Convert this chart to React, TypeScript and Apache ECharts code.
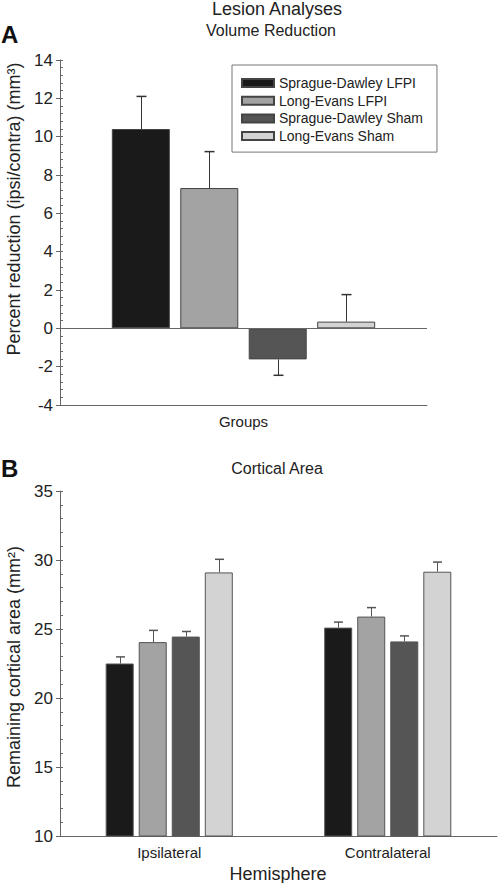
import React, { useEffect, useRef } from "react";
import * as echarts from "echarts";

const seriesNames = ["Sprague-Dawley LFPI", "Long-Evans LFPI", "Sprague-Dawley Sham", "Long-Evans Sham"];
const seriesColors = ["#1a1a1a", "#a3a3a3", "#555555", "#d3d3d3"];

// Panel A: Volume reduction
const volumeCategories = ["Groups"];
const volumeMeans = [10.4, 7.32, -1.62, 0.35];
const volumeErrEnds = [12.1, 9.22, -2.45, 1.76];

// Panel B: Cortical area
const areaCategories = ["Ipsilateral", "Contralateral"];
const areaMeans = [
  [22.5, 25.1],
  [24.05, 25.9],
  [24.45, 24.1],
  [29.1, 29.15],
];
const areaErrEnds = [
  [22.98, 25.5],
  [24.9, 26.55],
  [24.82, 24.5],
  [30.05, 29.85],
];

const volumeTicks = { min: -4, max: 14, interval: 2, minor: 0.4 };
const areaTicks = { min: 10, max: 35, interval: 5, minor: 1 };

const FONT = "'Liberation Sans', Arial, sans-serif";
const TXT = "#222";
const AXIS = "#666";

export default function App() {
  const ref = useRef<HTMLDivElement>(null);
  useEffect(() => {
    if (!ref.current) return;
    const chart = echarts.init(ref.current, undefined, { renderer: "svg" });

    const pitchA = 58 * 1.18;
    const pitchB = 28 * 1.18;

    const errSeries = (
      xAxisIndex: number,
      yAxisIndex: number,
      data: number[][],
      pitch: number,
      cap: number,
      color: string
    ) => ({
      type: "custom",
      xAxisIndex,
      yAxisIndex,
      silent: true,
      z: 1,
      encode: { x: 0, y: [1, 2] },
      data,
      renderItem: (params: any, api: any) => {
        const cat = api.value(0);
        const s = api.value(3);
        const off = (s - 1.5) * pitch;
        const p0 = api.coord([cat, api.value(1)]);
        const p1 = api.coord([cat, api.value(2)]);
        const x = Math.round(p0[0] + off) + 0.5;
        return {
          type: "group",
          children: [
            { type: "line", shape: { x1: x, y1: p0[1], x2: x, y2: p1[1] }, style: { stroke: color, lineWidth: 1 } },
            { type: "line", shape: { x1: x - cap / 2, y1: p1[1], x2: x + cap / 2, y2: p1[1] }, style: { stroke: color, lineWidth: 1.5 } },
          ],
        };
      },
    });

    const volErrData = volumeMeans.map((m, i) => [0, m, volumeErrEnds[i], i]);
    const areaErrData: number[][] = [];
    areaMeans.forEach((arr, i) => arr.forEach((m, c) => areaErrData.push([c, m, areaErrEnds[i][c], i])));

    const yAxisBase = (gridIndex: number, t: any) => [
      {
        type: "value",
        gridIndex,
        position: "left",
        min: t.min,
        max: t.max,
        interval: t.interval,
        axisLine: { show: true, lineStyle: { color: AXIS, width: 1 } },
        axisTick: { show: true, inside: false, length: 4, lineStyle: { color: AXIS } },
        axisLabel: { color: TXT, fontSize: 17, fontFamily: FONT, margin: 7 },
        splitLine: { show: false },
      },
      {
        type: "value",
        gridIndex,
        position: "left",
        offset: 0,
        min: t.min,
        max: t.max,
        interval: t.minor,
        axisLine: { show: false },
        axisTick: { show: true, inside: true, length: 3, lineStyle: { color: AXIS } },
        axisLabel: { show: false },
        splitLine: { show: false },
      },
    ];

    const option: any = {
      animation: false,
      backgroundColor: "#fff",
      textStyle: { fontFamily: FONT },
      grid: [
        { left: 60, top: 60, right: 72, bottom: 478 },
        { left: 60, top: 491, right: 2, bottom: 47 },
      ],
      legend: {
        data: seriesNames,
        orient: "vertical",
        left: 232,
        top: 65,
        itemWidth: 32,
        itemHeight: 8,
        itemGap: 3.7,
        selectedMode: false,
        borderColor: "#777",
        borderWidth: 1,
        padding: [11, 14, 9, 9],
        textStyle: { color: TXT, fontSize: 14, fontFamily: FONT },
        icon: "rect",
      },
      xAxis: [
        {
          type: "category",
          gridIndex: 0,
          data: volumeCategories,
          axisLine: { onZero: false, lineStyle: { color: AXIS } },
          axisTick: { show: false },
          axisLabel: { color: TXT, fontSize: 15, fontFamily: FONT, margin: 9 },
        },
        {
          type: "category",
          gridIndex: 1,
          data: areaCategories,
          axisLine: { onZero: false, lineStyle: { color: AXIS } },
          axisTick: { show: false },
          axisLabel: { color: TXT, fontSize: 15, fontFamily: FONT, margin: 9 },
        },
      ],
      yAxis: [...yAxisBase(0, volumeTicks), ...yAxisBase(1, areaTicks)],
      series: [
        ...seriesNames.map((name, i) => ({
          type: "bar",
          name,
          xAxisIndex: 0,
          yAxisIndex: 0,
          data: [volumeMeans[i]],
          barWidth: 58,
          barGap: "18%",
          z: 2,
          itemStyle: { color: seriesColors[i], borderColor: "#444", borderWidth: 1 },
          ...(i === 0
            ? {
                markLine: {
                  silent: true,
                  symbol: ["none", "none"],
                  label: { show: false },
                  lineStyle: { color: AXIS, width: 1, type: "solid" },
                  data: [{ yAxis: 0 }],
                },
              }
            : {}),
        })),
        ...seriesNames.map((name, i) => ({
          type: "bar",
          name,
          xAxisIndex: 1,
          yAxisIndex: 2,
          data: areaMeans[i],
          barWidth: 28,
          barGap: "18%",
          z: 2,
          itemStyle: { color: seriesColors[i], borderColor: "#555", borderWidth: 1 },
        })),
        errSeries(0, 0, volErrData, pitchA, 10, "#333"),
        errSeries(1, 2, areaErrData, pitchB, 9, "#555"),
      ],
      graphic: [
        { type: "text", x: 277, y: 9, style: { text: "Lesion Analyses", font: `18px ${FONT}`, fill: TXT, textAlign: "center", textVerticalAlign: "middle" } },
        { type: "text", x: 271, y: 30, style: { text: "Volume Reduction", font: `16px ${FONT}`, fill: TXT, textAlign: "center", textVerticalAlign: "middle" } },
        { type: "text", x: 1, y: 34, style: { text: "A", font: `bold 24px ${FONT}`, fill: "#111", textAlign: "left", textVerticalAlign: "middle" } },
        { type: "text", x: 1, y: 468, style: { text: "B", font: `bold 24px ${FONT}`, fill: "#111", textAlign: "left", textVerticalAlign: "middle" } },
        { type: "text", x: 277, y: 468, style: { text: "Cortical Area", font: `16px ${FONT}`, fill: TXT, textAlign: "center", textVerticalAlign: "middle" } },
        { type: "text", x: 14, y: 209, rotation: Math.PI / 2, style: { text: "Percent reduction (ipsi/contra) (mm³)", font: `18px ${FONT}`, fill: TXT, textAlign: "center", textVerticalAlign: "middle" } },
        { type: "text", x: 14, y: 667, rotation: Math.PI / 2, style: { text: "Remaining cortical area (mm²)", font: `18px ${FONT}`, fill: TXT, textAlign: "center", textVerticalAlign: "middle" } },
        { type: "text", x: 278, y: 874, style: { text: "Hemisphere", font: `18px ${FONT}`, fill: TXT, textAlign: "center", textVerticalAlign: "middle" } },
      ],
    };
    chart.setOption(option);
    return () => chart.dispose();
  }, []);
  return <div ref={ref} style={{ position: "absolute", left: 0, top: 0, width: 499, height: 883 }} />;
}
